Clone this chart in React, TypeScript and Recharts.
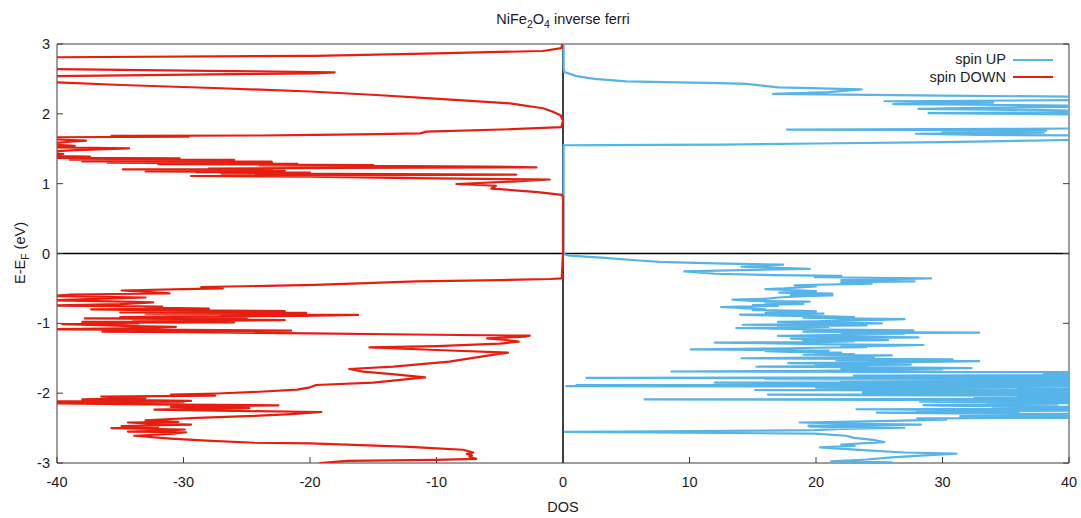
import React from 'react';
import { ScatterChart, Scatter, XAxis, YAxis, ReferenceLine, Legend } from 'recharts';

// ---- data ----
const xTicks = [-40, -30, -20, -10, 0, 10, 20, 30, 40];
const yTicks = [-3, -2, -1, 0, 1, 2, 3];
const seriesNames = ['spin UP', 'spin DOWN'];
const seriesColors = ['#56b4e9', '#e51e10'];

// [energy (eV), DOS]
const spinUp: [number, number][] = [
  [-3.05, 24], [-2.99, 26.0], [-2.975, 21.2], [-2.95, 24], [-2.92, 26], [-2.89, 28.6], [-2.865, 31.1],
  [-2.85, 27], [-2.82, 24], [-2.775, 20.3], [-2.755, 23.06], [-2.735, 22], [-2.7, 25.4], [-2.67, 24.5],
  [-2.64, 23], [-2.61, 22.4], [-2.58, 19.9], [-2.565, 10], [-2.555, 0.13], [-2.545, 8], [-2.53, 19.9],
  [-2.51, 22], [-2.495, 27], [-2.48, 19.5], [-2.465, 19.4], [-2.45, 28.3], [-2.44, 23.3], [-2.42, 18.7],
  [-2.4, 25], [-2.38, 30.3], [-2.36, 28], [-2.35, 45], [-2.34, 36], [-2.33, 31.4], [-2.32, 45],
  [-2.31, 40], [-2.3, 45], [-2.295, 33], [-2.28, 24.8], [-2.27, 36], [-2.26, 28], [-2.25, 42],
  [-2.24, 30], [-2.23, 23.2], [-2.22, 45], [-2.21, 34], [-2.2, 45], [-2.19, 36], [-2.18, 30],
  [-2.17, 28.5], [-2.16, 39.1], [-2.15, 33.5], [-2.14, 45], [-2.13, 31], [-2.12, 28.2], [-2.11, 45],
  [-2.1, 38], [-2.09, 6.46], [-2.08, 45], [-2.07, 32.5], [-2.06, 45], [-2.05, 36], [-2.04, 45],
  [-2.03, 23], [-2.02, 16.2], [-2.01, 45], [-2.0, 30], [-1.99, 23.7], [-1.98, 45], [-1.97, 35],
  [-1.96, 45], [-1.955, 15.2], [-1.945, 45], [-1.935, 28], [-1.92, 20], [-1.905, 45], [-1.9, 0.27],
  [-1.893, 30], [-1.885, 1.06], [-1.875, 45], [-1.86, 25], [-1.85, 12], [-1.84, 45], [-1.83, 22],
  [-1.82, 45], [-1.81, 30], [-1.8, 16], [-1.79, 45], [-1.78, 1.85], [-1.77, 45], [-1.76, 32],
  [-1.75, 23], [-1.74, 45], [-1.73, 38], [-1.72, 45], [-1.71, 40.5], [-1.7, 45], [-1.69, 8.57],
  [-1.68, 20], [-1.67, 25], [-1.66, 30], [-1.65, 22], [-1.64, 32.3], [-1.63, 26], [-1.62, 15.3],
  [-1.61, 24], [-1.6, 20], [-1.59, 27.5], [-1.58, 22], [-1.57, 17.8], [-1.56, 26], [-1.55, 30],
  [-1.54, 32.9], [-1.53, 21.6], [-1.52, 27], [-1.515, 30.8], [-1.5, 14.1], [-1.49, 20], [-1.48, 24.6],
  [-1.47, 22], [-1.46, 26], [-1.45, 19], [-1.44, 23], [-1.43, 20], [-1.42, 22], [-1.41, 18],
  [-1.4, 16], [-1.39, 21], [-1.38, 17], [-1.372, 10.1], [-1.36, 18], [-1.35, 20], [-1.34, 24],
  [-1.33, 22], [-1.32, 26], [-1.31, 28.5], [-1.3, 21], [-1.29, 18], [-1.277, 12.0], [-1.27, 20],
  [-1.26, 23], [-1.25, 19], [-1.24, 25.7], [-1.23, 21], [-1.22, 18], [-1.21, 24], [-1.2, 28.1],
  [-1.19, 22], [-1.18, 17], [-1.17, 21], [-1.16, 24], [-1.15, 27], [-1.14, 22], [-1.134, 32.9],
  [-1.125, 25], [-1.12, 19], [-1.11, 24], [-1.1, 27.7], [-1.09, 21], [-1.08, 18], [-1.067, 13.7],
  [-1.06, 19], [-1.05, 21], [-1.04, 17], [-1.03, 24], [-1.02, 14.2], [-1.01, 20], [-1.0, 25.2],
  [-0.99, 21], [-0.98, 17], [-0.97, 20], [-0.96, 22], [-0.95, 25], [-0.94, 27], [-0.93, 22],
  [-0.92, 19], [-0.91, 23], [-0.9, 21], [-0.89, 17], [-0.876, 14], [-0.87, 18], [-0.86, 20.6],
  [-0.85, 16], [-0.84, 17], [-0.83, 20], [-0.82, 19], [-0.81, 15], [-0.8, 16], [-0.78, 14],
  [-0.766, 12.5], [-0.75, 17], [-0.74, 15], [-0.72, 19], [-0.7, 16], [-0.69, 19.5], [-0.68, 15],
  [-0.66, 13.4], [-0.65, 16], [-0.63, 17], [-0.61, 19], [-0.6, 21.3], [-0.59, 18], [-0.575, 21.3],
  [-0.56, 17.1], [-0.54, 20], [-0.53, 19], [-0.51, 16], [-0.5, 17.5], [-0.47, 20], [-0.455, 18.3],
  [-0.43, 24.4], [-0.41, 22], [-0.4, 27.8], [-0.38, 22], [-0.356, 29.1], [-0.34, 19.9], [-0.32, 22],
  [-0.31, 16.6], [-0.29, 12], [-0.255, 9.6], [-0.235, 15], [-0.22, 19.5], [-0.19, 14.1], [-0.16, 17.4],
  [-0.14, 12], [-0.12, 7.6], [-0.1, 6], [-0.06, 3], [-0.03, 0.5], [-0.01, 0.1], [0, 0.05],
  [1.55, 0.05], [1.553, 3], [1.56, 12.4], [1.575, 20], [1.595, 30], [1.625, 40], [1.64, 45],
  [1.675, 45], [1.69, 40.5], [1.7, 33], [1.715, 27.9], [1.73, 38], [1.745, 30], [1.76, 38.2],
  [1.775, 17.7], [1.785, 35], [1.795, 45], [1.98, 45], [2.0, 36], [2.01, 28.9], [2.03, 45],
  [2.055, 38], [2.07, 28.1], [2.09, 34], [2.11, 45], [2.13, 33], [2.14, 26.1], [2.16, 34],
  [2.18, 25.4], [2.2, 45], [2.24, 45], [2.26, 30], [2.285, 16.6], [2.31, 21], [2.35, 23.6],
  [2.38, 17], [2.41, 15.4], [2.43, 14.5], [2.44, 12.4], [2.455, 8], [2.465, 5], [2.5, 2.5],
  [2.54, 1.06], [2.6, 0.1], [2.65, 0.05], [3.05, 0.05],
];

const spinDown: [number, number][] = [
  [-3.05, -19.5], [-3.0, -19.2], [-2.97, -17.1], [-2.955, -10], [-2.94, -6.85], [-2.91, -7.4],
  [-2.89, -7.2], [-2.87, -7.6], [-2.85, -7.1], [-2.81, -7.9], [-2.79, -10], [-2.77, -12.1],
  [-2.745, -16], [-2.72, -20], [-2.71, -24.4], [-2.68, -28.2], [-2.65, -31], [-2.61, -33.9],
  [-2.585, -31], [-2.56, -29.8], [-2.55, -34.4], [-2.535, -31], [-2.52, -29.9], [-2.5, -35.7],
  [-2.485, -32], [-2.47, -34.9], [-2.45, -29.4], [-2.435, -32.5], [-2.42, -34.4], [-2.41, -30.4],
  [-2.39, -33], [-2.37, -31], [-2.355, -28.9], [-2.33, -25], [-2.3, -21.5], [-2.27, -19.1],
  [-2.255, -26], [-2.235, -32.3], [-2.215, -24.8], [-2.195, -31], [-2.175, -22.5], [-2.16, -33],
  [-2.145, -40.5], [-2.13, -30], [-2.12, -42], [-2.11, -29.4], [-2.09, -38], [-2.07, -33],
  [-2.05, -36.5], [-2.035, -27.5], [-2.02, -31], [-2.005, -27.3], [-1.98, -24], [-1.95, -21],
  [-1.916, -20], [-1.883, -19.5], [-1.85, -15], [-1.773, -10.9], [-1.726, -13.5], [-1.692, -15.8],
  [-1.654, -16.9], [-1.621, -13.4], [-1.549, -9], [-1.487, -6.85], [-1.44, -5.2], [-1.42, -4.35],
  [-1.382, -10], [-1.344, -15.3], [-1.325, -10], [-1.29, -5], [-1.263, -3.5], [-1.239, -4.5],
  [-1.215, -6], [-1.191, -3.0], [-1.177, -2.63], [-1.16, -12], [-1.143, -20], [-1.13, -28],
  [-1.12, -36.4], [-1.105, -21.5], [-1.095, -30], [-1.085, -40.5], [-1.07, -33], [-1.05, -30.6],
  [-1.04, -34], [-1.03, -36], [-1.01, -39.6], [-1.0, -33.5], [-0.99, -36], [-0.985, -26], [-0.98, -38],
  [-0.97, -28], [-0.965, -30], [-0.955, -22], [-0.95, -24.2], [-0.945, -34], [-0.94, -28],
  [-0.93, -37.8], [-0.925, -25], [-0.92, -31], [-0.915, -27], [-0.91, -35], [-0.9, -31],
  [-0.895, -20.5], [-0.88, -16.2], [-0.875, -27], [-0.865, -24], [-0.86, -33], [-0.85, -20.3],
  [-0.845, -35], [-0.84, -27], [-0.835, -30], [-0.825, -22], [-0.82, -24.4], [-0.81, -33],
  [-0.8, -37.3], [-0.79, -28], [-0.775, -33], [-0.76, -31.7], [-0.745, -40.5], [-0.725, -35],
  [-0.7, -32.4], [-0.69, -34.8], [-0.67, -40.5], [-0.65, -37], [-0.63, -33], [-0.61, -40.5],
  [-0.59, -38.9], [-0.58, -35.4], [-0.57, -31.1], [-0.55, -33], [-0.53, -34.9], [-0.51, -30],
  [-0.5, -26.9], [-0.48, -28.6], [-0.45, -19.6], [-0.42, -15], [-0.4, -11.6], [-0.38, -5],
  [-0.365, -1], [-0.355, -0.1],
  [0.0, 0], [0.81, 0], [0.84, -0.1], [0.88, -2], [0.93, -5.66], [0.97, -5.3], [0.995, -8.43],
  [1.03, -4], [1.06, -1.05], [1.08, -12], [1.1, -20], [1.11, -29.4], [1.125, -8], [1.13, -3.7],
  [1.14, -18], [1.145, -27], [1.15, -22], [1.157, -20], [1.165, -29], [1.17, -24], [1.175, -33],
  [1.18, -30], [1.185, -22], [1.19, -27], [1.2, -23], [1.206, -34.8], [1.21, -24], [1.215, -28],
  [1.225, -17], [1.234, -2.1], [1.245, -6], [1.255, -16], [1.26, -24], [1.267, -15], [1.275, -25],
  [1.28, -32], [1.285, -21], [1.29, -30], [1.295, -28], [1.3, -36], [1.305, -23], [1.31, -33],
  [1.315, -23.05], [1.32, -38], [1.325, -30], [1.33, -36], [1.34, -26], [1.345, -39], [1.355, -33],
  [1.363, -30.3], [1.37, -40.5], [1.375, -38], [1.386, -37.4], [1.4, -42], [1.425, -39.5], [1.45, -42],
  [1.48, -38.5], [1.506, -34.3], [1.52, -40.5], [1.54, -38.6], [1.57, -41], [1.6, -39], [1.615, -37.7],
  [1.64, -41], [1.664, -40.5], [1.673, -29.6], [1.683, -35.7], [1.69, -24], [1.7, -19.6], [1.707, -16.1],
  [1.72, -11.3], [1.745, -10.8], [1.78, -4], [1.81, -0.13], [1.9, 0], [1.98, -0.2], [2.03, -0.8],
  [2.08, -1.58], [2.15, -4.2], [2.21, -9.5], [2.27, -14.75], [2.32, -20], [2.366, -27], [2.413, -34.9],
  [2.45, -40], [2.48, -46], [2.51, -46], [2.54, -40], [2.58, -19.6], [2.595, -18.05], [2.615, -28],
  [2.64, -40], [2.68, -48], [2.76, -48], [2.81, -40], [2.83, -19.6], [2.867, -10], [2.9, -1.6],
  [2.94, -0.13], [3.05, 0],
];

// ---- helpers ----
const toRows = (pts: [number, number][]) => pts.map(([e, dos]) => ({ e, dos }));
const FONT = '"Liberation Sans", Arial, Helvetica, sans-serif';
const TEXT = '#1a1a1a';
const BORDER = '#3c3c3c';
const FS = 14.5;
const noDot = () => <g />;
const blankTick = () => '';

const titleLabel = () => (
  <text x={563} y={24} textAnchor="middle" fontSize={FS} fill={TEXT} fontFamily={FONT}>
    NiFe<tspan dy={4} fontSize={10.5}>2</tspan>
    <tspan dy={-4}>O</tspan>
    <tspan dy={4} fontSize={10.5}>4</tspan>
    <tspan dy={-4}> inverse ferri</tspan>
  </text>
);

const xLabel = () => (
  <text x={563} y={512} textAnchor="middle" fontSize={FS} fill={TEXT} fontFamily={FONT}>
    DOS
  </text>
);

const yLabel = () => (
  <text x={0} y={0} transform="translate(25,253) rotate(-90)" textAnchor="middle" fontSize={FS} fill={TEXT} fontFamily={FONT}>
    E-E<tspan dy={4} fontSize={10.5}>F</tspan>
    <tspan dy={-4}> (eV)</tspan>
  </text>
);

const legendContent = () => (
  <div style={{ fontFamily: FONT, fontSize: FS, color: TEXT }}>
    {seriesNames.map((n, i) => (
      <div key={n} style={{ display: 'flex', alignItems: 'center', justifyContent: 'flex-end', height: 17.5 }}>
        <span style={{ lineHeight: '17.5px' }}>{n}</span>
        <svg width={40} height={4} style={{ marginLeft: 7, display: 'block' }}>
          <line x1={0} x2={40} y1={2} y2={2} stroke={seriesColors[i]} strokeWidth={2.2} />
        </svg>
      </div>
    ))}
  </div>
);

export default function App() {
  const upRows = toRows(spinUp);
  const downRows = toRows(spinDown);
  const tickStyle = { fill: TEXT, fontSize: FS, fontFamily: FONT };
  return (
    <div style={{ position: 'absolute', left: 0, top: 0, width: 1081, height: 518, background: '#fff' }}>
      <ScatterChart width={1081} height={518} margin={{ top: 43, right: 11, bottom: 25, left: 12 }}>
        <XAxis
          xAxisId={0}
          dataKey="dos"
          type="number"
          domain={[-40, 40]}
          ticks={xTicks}
          interval={0}
          allowDataOverflow
          height={30}
          tickSize={-6}
          tickMargin={20}
          stroke={BORDER}
          tick={tickStyle}
          label={xLabel}
        />
        <XAxis
          xAxisId="top"
          orientation="top"
          type="number"
          domain={[-40, 40]}
          ticks={xTicks}
          interval={0}
          allowDataOverflow
          height={1}
          tickSize={-6}
          stroke={BORDER}
          tick={tickStyle}
          tickFormatter={blankTick}
          label={titleLabel}
        />
        <YAxis
          yAxisId={0}
          dataKey="e"
          type="number"
          domain={[-3, 3]}
          ticks={yTicks}
          interval={0}
          allowDataOverflow
          width={45}
          tickSize={-6}
          tickMargin={13}
          stroke={BORDER}
          tick={tickStyle}
          label={yLabel}
        />
        <YAxis
          yAxisId="right"
          orientation="right"
          type="number"
          domain={[-3, 3]}
          ticks={yTicks}
          interval={0}
          allowDataOverflow
          width={1}
          tickSize={-6}
          stroke={BORDER}
          tick={tickStyle}
          tickFormatter={blankTick}
        />
        <ReferenceLine x={0} xAxisId={0} yAxisId={0} stroke="#000" strokeWidth={1.5} />
        <ReferenceLine y={0} xAxisId={0} yAxisId={0} stroke="#000" strokeWidth={1.5} />
        <Scatter
          name={seriesNames[0]}
          data={upRows}
          xAxisId={0}
          yAxisId={0}
          fill={seriesColors[0]}
          line={{ stroke: seriesColors[0], strokeWidth: 2.2, strokeLinejoin: 'round' }}
          lineType="joint"
          shape={noDot}
          isAnimationActive={false}
        />
        <Scatter
          name={seriesNames[1]}
          data={downRows}
          xAxisId={0}
          yAxisId={0}
          fill={seriesColors[1]}
          line={{ stroke: seriesColors[1], strokeWidth: 2.2, strokeLinejoin: 'round' }}
          lineType="joint"
          shape={noDot}
          isAnimationActive={false}
        />
        <Legend
          layout="vertical"
          align="center"
          verticalAlign="middle"
          wrapperStyle={{ top: 51, right: 28, left: 'auto', bottom: 'auto', width: 'auto', height: 'auto' }}
          content={legendContent}
        />
      </ScatterChart>
    </div>
  );
}
